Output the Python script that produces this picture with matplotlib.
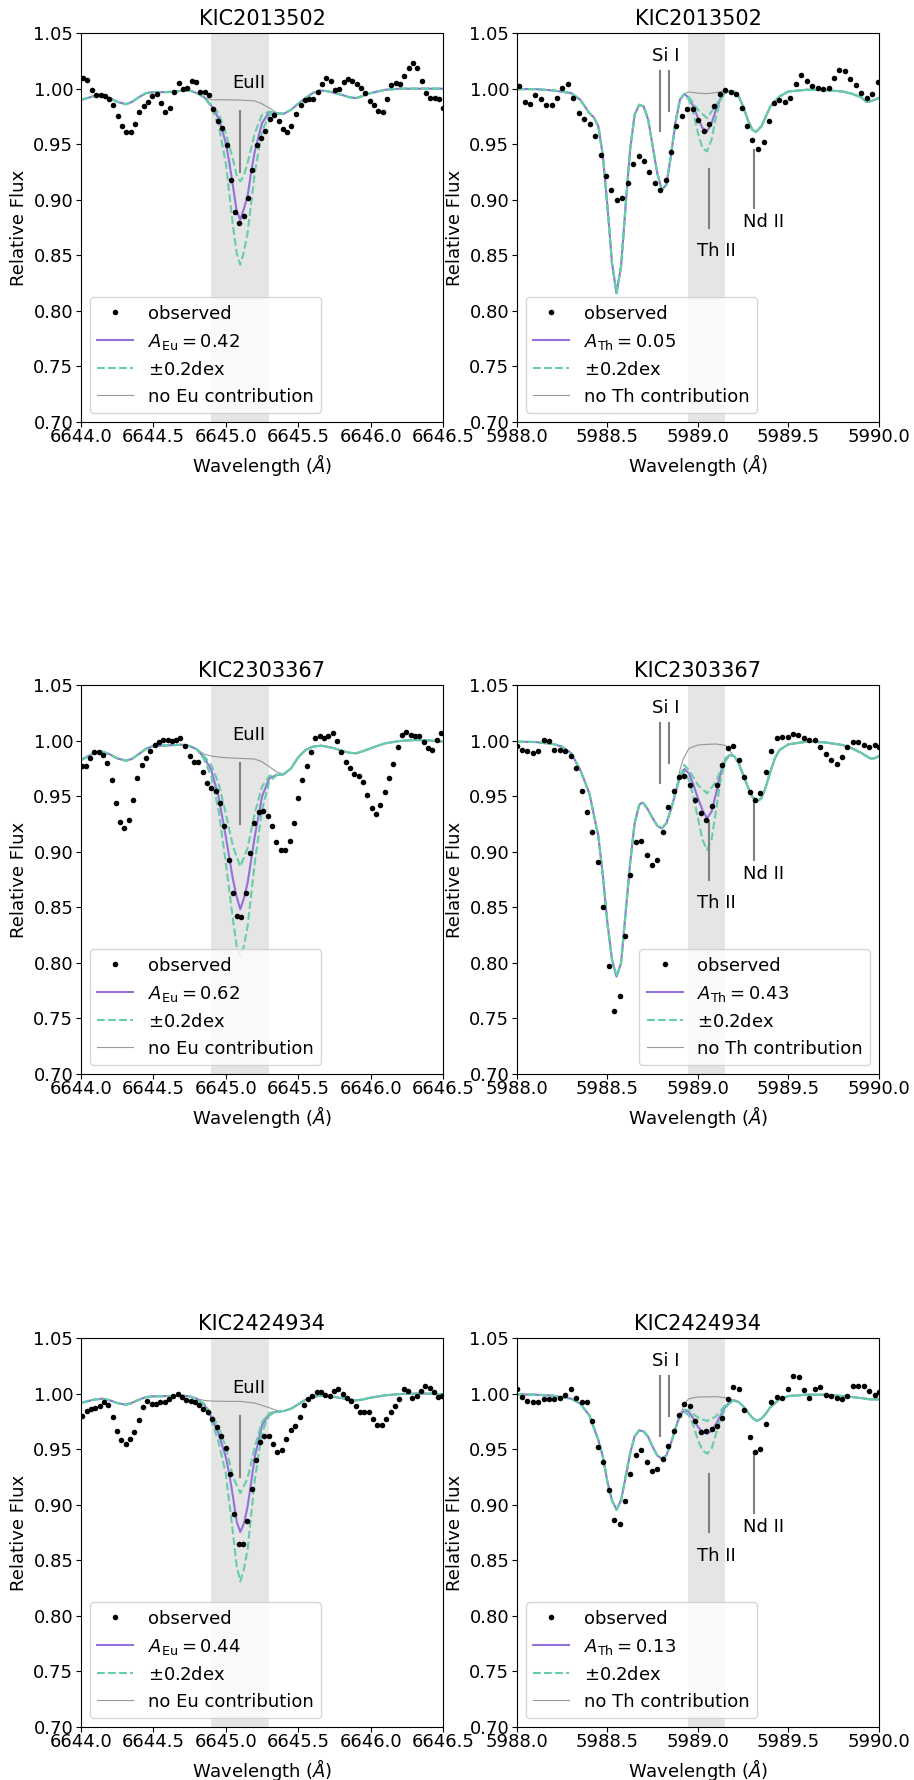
import numpy as np
import matplotlib
matplotlib.use('Agg')
import matplotlib.pyplot as plt
from matplotlib.ticker import FormatStrFormatter

stars = ['KIC2013502', 'KIC2303367', 'KIC2424934']
a_eu = [0.42, 0.62, 0.44]
a_th = [0.05, 0.43, 0.13]

# ---------------- KIC2013502, Eu 6645 ----------------
eu1_obs_wl = [6644.011, 6644.044, 6644.074, 6644.103, 6644.136, 6644.166, 6644.193, 6644.223, 6644.253, 6644.283,
              6644.313, 6644.343, 6644.373, 6644.402, 6644.432, 6644.462, 6644.492, 6644.522, 6644.552, 6644.582,
              6644.614, 6644.642, 6644.674, 6644.704, 6644.734, 6644.764, 6644.793, 6644.823, 6644.853, 6644.883,
              6644.915, 6644.945, 6644.973, 6645.005, 6645.035, 6645.065, 6645.092, 6645.127, 6645.155, 6645.184,
              6645.214, 6645.244, 6645.274, 6645.304, 6645.334, 6645.364, 6645.394, 6645.424, 6645.453, 6645.483,
              6645.516, 6645.545, 6645.575, 6645.605, 6645.635, 6645.663, 6645.695, 6645.725, 6645.755, 6645.785,
              6645.815, 6645.844, 6645.874, 6645.904, 6645.934, 6645.964, 6645.994, 6646.024, 6646.054, 6646.084,
              6646.114, 6646.144, 6646.173, 6646.203, 6646.233, 6646.263, 6646.293, 6646.323, 6646.353, 6646.383,
              6646.413, 6646.443, 6646.473, 6646.500]
eu1_obs_fl = [1.010, 1.008, 0.999, 0.994, 0.994, 0.993, 0.991, 0.985, 0.975, 0.966,
              0.961, 0.961, 0.968, 0.979, 0.984, 0.988, 0.993, 0.995, 0.987, 0.979,
              0.983, 0.997, 1.005, 1.000, 1.001, 1.007, 1.006, 0.997, 0.997, 0.994,
              0.982, 0.971, 0.965, 0.949, 0.918, 0.889, 0.879, 0.885, 0.902, 0.927,
              0.949, 0.956, 0.962, 0.973, 0.976, 0.971, 0.964, 0.961, 0.966, 0.977,
              0.985, 0.990, 0.991, 0.991, 0.997, 1.004, 1.010, 1.007, 0.999, 1.000,
              1.006, 1.009, 1.007, 1.004, 1.001, 0.996, 0.989, 0.985, 0.980, 0.979,
              0.991, 1.003, 1.005, 1.004, 1.011, 1.019, 1.023, 1.019, 1.007, 0.996,
              0.992, 0.992, 0.991, 0.983]
eu1_syn_wl = [6644.00, 6644.05, 6644.12, 6644.20, 6644.25, 6644.31, 6644.35, 6644.40, 6644.45, 6644.50,
              6644.60, 6644.70, 6644.75, 6644.80, 6644.85, 6644.90, 6644.95, 6644.975, 6645.00, 6645.025,
              6645.05, 6645.075, 6645.10, 6645.125, 6645.15, 6645.175, 6645.20, 6645.25, 6645.30, 6645.35,
              6645.40, 6645.45, 6645.50, 6645.55, 6645.60, 6645.65, 6645.70, 6645.80, 6645.85, 6645.90,
              6645.95, 6646.00, 6646.10, 6646.20, 6646.50]
eu1_syn_fl = [0.9900, 0.9918, 0.9945, 0.9915, 0.9882, 0.9860, 0.9879, 0.9924, 0.9960, 0.9969,
              0.9969, 0.9981, 0.9984, 0.9960, 0.9924, 0.9846, 0.9735, 0.9630, 0.9510, 0.9330,
              0.9120, 0.8900, 0.8820, 0.8920, 0.9030, 0.9250, 0.9435, 0.9690, 0.9790, 0.9777,
              0.9774, 0.9810, 0.9864, 0.9915, 0.9960, 0.9984, 0.9978, 0.9945, 0.9924, 0.9915,
              0.9936, 0.9960, 0.9990, 1.0000, 1.0000]
eu1_lo_wl = [6644.90, 6644.95, 6645.00, 6645.05, 6645.075, 6645.10, 6645.125, 6645.15, 6645.20, 6645.25, 6645.30]
eu1_lo_fl = [0.9855, 0.9780, 0.9600, 0.9360, 0.9220, 0.9165, 0.9220, 0.9330, 0.9600, 0.9765, 0.9795]
eu1_hi_wl = [6644.90, 6644.95, 6645.00, 6645.025, 6645.05, 6645.075, 6645.10, 6645.125, 6645.15, 6645.175,
             6645.20, 6645.25, 6645.30, 6645.35]
eu1_hi_fl = [0.9834, 0.9675, 0.9330, 0.9050, 0.8760, 0.8520, 0.8415, 0.8530, 0.8700, 0.8970,
             0.9240, 0.9615, 0.9765, 0.9777]
eu1_no_wl = [6644.85, 6644.90, 6645.00, 6645.10, 6645.20, 6645.25, 6645.30, 6645.35]
eu1_no_fl = [0.9924, 0.9900, 0.9900, 0.9897, 0.9890, 0.9864, 0.9825, 0.9786]

# ---------------- KIC2013502, Th 5989 ----------------
th1_obs_wl = [5988.009, 5988.042, 5988.070, 5988.101, 5988.131, 5988.162, 5988.191, 5988.221, 5988.250, 5988.280,
              5988.311, 5988.340, 5988.370, 5988.401, 5988.431, 5988.462, 5988.491, 5988.521, 5988.552, 5988.581,
              5988.611, 5988.640, 5988.672, 5988.701, 5988.730, 5988.762, 5988.791, 5988.821, 5988.850, 5988.881,
              5988.911, 5988.940, 5988.970, 5989.001, 5989.032, 5989.062, 5989.091, 5989.122, 5989.152, 5989.181,
              5989.211, 5989.242, 5989.271, 5989.301, 5989.330, 5989.362, 5989.391, 5989.420, 5989.450, 5989.481,
              5989.511, 5989.542, 5989.571, 5989.601, 5989.632, 5989.661, 5989.691, 5989.722, 5989.752, 5989.781,
              5989.812, 5989.842, 5989.871, 5989.902, 5989.932, 5989.961, 5989.993]
th1_obs_fl = [1.002, 0.988, 0.986, 0.994, 0.991, 0.985, 0.985, 0.992, 1.001, 1.004,
              0.992, 0.978, 0.973, 0.968, 0.957, 0.940, 0.921, 0.909, 0.900, 0.902,
              0.915, 0.932, 0.939, 0.935, 0.925, 0.915, 0.909, 0.918, 0.943, 0.966,
              0.975, 0.982, 0.982, 0.972, 0.962, 0.968, 0.984, 0.995, 0.999, 0.997,
              0.995, 0.983, 0.966, 0.954, 0.946, 0.952, 0.971, 0.987, 0.990, 0.988,
              0.992, 1.004, 1.012, 1.007, 1.002, 1.001, 1.000, 1.001, 1.010, 1.017,
              1.016, 1.009, 1.003, 0.996, 0.992, 0.995, 1.006]
th1_syn_wl = [5988.00, 5988.10, 5988.20, 5988.30, 5988.35, 5988.40, 5988.425, 5988.45, 5988.475, 5988.50,
              5988.525, 5988.55, 5988.575, 5988.60, 5988.625, 5988.65, 5988.675, 5988.70, 5988.725, 5988.75,
              5988.775, 5988.80, 5988.825, 5988.85, 5988.875, 5988.90, 5988.925, 5988.95, 5988.975, 5989.00,
              5989.025, 5989.05, 5989.075, 5989.10, 5989.125, 5989.15, 5989.175, 5989.20, 5989.225, 5989.25,
              5989.275, 5989.30, 5989.32, 5989.35, 5989.375, 5989.40, 5989.45, 5989.50, 5989.60, 5989.70,
              5989.80, 5989.85, 5989.90, 5989.93, 5989.95, 5990.00]
th1_syn_fl = [0.9996, 0.9996, 0.9984, 0.9960, 0.9900, 0.9780, 0.9740, 0.9660, 0.9390, 0.8940,
              0.8430, 0.8160, 0.8400, 0.8940, 0.9450, 0.9765, 0.9855, 0.9840, 0.9720, 0.9480,
              0.9240, 0.9090, 0.9135, 0.9390, 0.9690, 0.9900, 0.9954, 0.9915, 0.9840, 0.9735,
              0.9645, 0.9615, 0.9690, 0.9810, 0.9915, 0.9966, 0.9980, 0.9972, 0.9930, 0.9840,
              0.9720, 0.9630, 0.9610, 0.9660, 0.9750, 0.9840, 0.9930, 0.9975, 0.9990, 0.9987,
              0.9975, 0.9954, 0.9924, 0.9882, 0.9885, 0.9915]
th1_lo_wl = [5988.95, 5989.00, 5989.05, 5989.10, 5989.15]
th1_lo_fl = [0.9924, 0.9810, 0.9735, 0.9855, 0.9970]
th1_hi_wl = [5988.95, 5988.975, 5989.00, 5989.025, 5989.05, 5989.075, 5989.10, 5989.125, 5989.15]
th1_hi_fl = [0.9900, 0.9780, 0.9600, 0.9465, 0.9435, 0.9540, 0.9750, 0.9900, 0.9960]
th1_no_wl = [5988.95, 5989.00, 5989.05, 5989.10, 5989.15]
th1_no_fl = [0.9970, 0.9960, 0.9955, 0.9966, 0.9978]

# ---------------- KIC2303367, Eu 6645 ----------------
eu2_obs_wl = [6644.005, 6644.034, 6644.062, 6644.092, 6644.122, 6644.150, 6644.182, 6644.212, 6644.239, 6644.269,
              6644.299, 6644.329, 6644.359, 6644.389, 6644.419, 6644.448, 6644.478, 6644.508, 6644.538, 6644.568,
              6644.598, 6644.628, 6644.658, 6644.687, 6644.720, 6644.750, 6644.780, 6644.810, 6644.840, 6644.869,
              6644.899, 6644.929, 6644.959, 6644.989, 6645.019, 6645.049, 6645.079, 6645.108, 6645.138, 6645.168,
              6645.198, 6645.228, 6645.258, 6645.288, 6645.320, 6645.350, 6645.380, 6645.410, 6645.440, 6645.469,
              6645.499, 6645.529, 6645.559, 6645.589, 6645.619, 6645.649, 6645.679, 6645.709, 6645.739, 6645.769,
              6645.798, 6645.828, 6645.858, 6645.888, 6645.918, 6645.948, 6645.978, 6646.008, 6646.038, 6646.068,
              6646.098, 6646.128, 6646.157, 6646.187, 6646.217, 6646.247, 6646.277, 6646.307, 6646.337, 6646.367,
              6646.397, 6646.427, 6646.456, 6646.486]
eu2_obs_fl = [0.977, 0.977, 0.984, 0.990, 0.990, 0.987, 0.980, 0.965, 0.944, 0.927,
              0.921, 0.929, 0.947, 0.966, 0.978, 0.984, 0.991, 0.996, 0.999, 1.001,
              1.001, 1.000, 1.001, 1.002, 0.995, 0.986, 0.981, 0.981, 0.972, 0.962,
              0.957, 0.955, 0.944, 0.923, 0.893, 0.863, 0.842, 0.841, 0.863, 0.899,
              0.926, 0.936, 0.937, 0.932, 0.923, 0.909, 0.902, 0.902, 0.910, 0.926,
              0.948, 0.965, 0.977, 0.990, 1.002, 1.004, 1.002, 1.004, 1.007, 1.000,
              0.990, 0.981, 0.975, 0.970, 0.968, 0.963, 0.951, 0.939, 0.934, 0.942,
              0.954, 0.966, 0.979, 0.994, 1.005, 1.008, 1.005, 1.004, 1.004, 0.999,
              0.993, 0.992, 1.001, 1.007]
eu2_syn_wl = [6644.00, 6644.05, 6644.10, 6644.15, 6644.20, 6644.25, 6644.31, 6644.35, 6644.40, 6644.45,
              6644.50, 6644.60, 6644.70, 6644.75, 6644.80, 6644.85, 6644.90, 6644.95, 6645.00, 6645.05,
              6645.075, 6645.10, 6645.125, 6645.15, 6645.20, 6645.25, 6645.30, 6645.35, 6645.40, 6645.45,
              6645.50, 6645.55, 6645.60, 6645.66, 6645.70, 6645.75, 6645.80, 6645.85, 6645.90, 6645.95,
              6646.00, 6646.05, 6646.10, 6646.20, 6646.30, 6646.40, 6646.50]
eu2_syn_fl = [0.9826, 0.9862, 0.9892, 0.9900, 0.9877, 0.9841, 0.9820, 0.9835, 0.9880, 0.9928,
              0.9952, 0.9958, 0.9964, 0.9952, 0.9922, 0.9850, 0.9736, 0.9496, 0.9137, 0.8747,
              0.8597, 0.8483, 0.8582, 0.8717, 0.9137, 0.9496, 0.9661, 0.9691, 0.9697, 0.9751,
              0.9850, 0.9916, 0.9946, 0.9955, 0.9946, 0.9931, 0.9910, 0.9892, 0.9886, 0.9907,
              0.9931, 0.9955, 0.9976, 0.9997, 1.0006, 1.0003, 0.9991]
eu2_lo_wl = [6644.85, 6644.90, 6644.95, 6645.00, 6645.05, 6645.10, 6645.15, 6645.20, 6645.25, 6645.30, 6645.35]
eu2_lo_fl = [0.9862, 0.9781, 0.9616, 0.9346, 0.9047, 0.8867, 0.9032, 0.9346, 0.9586, 0.9682, 0.9694]
eu2_hi_wl = [6644.85, 6644.90, 6644.95, 6645.00, 6645.05, 6645.075, 6645.10, 6645.125, 6645.15, 6645.20,
             6645.25, 6645.30, 6645.35]
eu2_hi_fl = [0.9832, 0.9676, 0.9376, 0.8897, 0.8387, 0.8150, 0.8058, 0.8150, 0.8327, 0.8897,
             0.9376, 0.9631, 0.9688]
eu2_no_wl = [6644.80, 6644.85, 6644.90, 6644.95, 6645.00, 6645.10, 6645.20, 6645.25, 6645.30, 6645.35, 6645.40]
eu2_no_fl = [0.9922, 0.9880, 0.9862, 0.9853, 0.9847, 0.9840, 0.9835, 0.9810, 0.9766, 0.9720, 0.9697]

# ---------------- KIC2303367, Th 5989 ----------------
th2_obs_wl = [5988.000, 5988.026, 5988.057, 5988.086, 5988.116, 5988.147, 5988.177, 5988.206, 5988.237, 5988.267,
              5988.296, 5988.326, 5988.357, 5988.386, 5988.416, 5988.447, 5988.477, 5988.506, 5988.535, 5988.567,
              5988.596, 5988.626, 5988.657, 5988.686, 5988.716, 5988.745, 5988.776, 5988.806, 5988.835, 5988.865,
              5988.896, 5988.925, 5988.955, 5988.984, 5989.016, 5989.045, 5989.075, 5989.104, 5989.135, 5989.167,
              5989.196, 5989.226, 5989.255, 5989.285, 5989.316, 5989.345, 5989.375, 5989.406, 5989.435, 5989.464,
              5989.496, 5989.525, 5989.555, 5989.586, 5989.615, 5989.645, 5989.676, 5989.705, 5989.735, 5989.766,
              5989.795, 5989.825, 5989.856, 5989.886, 5989.915, 5989.947, 5989.976, 5990.000]
th2_obs_fl = [0.995, 0.992, 0.991, 0.989, 0.991, 1.001, 1.000, 0.992, 0.992, 0.991,
              0.986, 0.975, 0.955, 0.936, 0.918, 0.891, 0.850, 0.797, 0.757, 0.770,
              0.824, 0.879, 0.909, 0.910, 0.897, 0.888, 0.893, 0.918, 0.940, 0.955,
              0.967, 0.968, 0.960, 0.947, 0.935, 0.929, 0.941, 0.960, 0.978, 0.993,
              0.995, 0.983, 0.967, 0.954, 0.947, 0.953, 0.972, 0.991, 1.002, 1.003,
              1.003, 1.006, 1.005, 1.002, 1.001, 1.001, 0.994, 0.988, 0.983, 0.979,
              0.985, 0.994, 0.999, 0.999, 0.996, 0.994, 0.996, 0.994]
th2_syn_wl = [5988.00, 5988.10, 5988.20, 5988.25, 5988.30, 5988.35, 5988.40, 5988.45, 5988.475, 5988.50,
              5988.525, 5988.55, 5988.575, 5988.60, 5988.625, 5988.65, 5988.675, 5988.69, 5988.70, 5988.725,
              5988.75, 5988.775, 5988.80, 5988.825, 5988.85, 5988.875, 5988.90, 5988.925, 5988.95, 5988.975,
              5989.00, 5989.025, 5989.05, 5989.075, 5989.10, 5989.125, 5989.15, 5989.175, 5989.20, 5989.225,
              5989.25, 5989.275, 5989.30, 5989.325, 5989.35, 5989.375, 5989.40, 5989.425, 5989.45, 5989.50,
              5989.60, 5989.70, 5989.80, 5989.85, 5989.90, 5989.95, 5989.975, 5990.00]
th2_syn_fl = [0.9991, 0.9988, 0.9970, 0.9946, 0.9886, 0.9736, 0.9526, 0.9137, 0.8777, 0.8357,
              0.8028, 0.7878, 0.7998, 0.8447, 0.8897, 0.9256, 0.9421, 0.9442, 0.9436, 0.9376,
              0.9301, 0.9235, 0.9211, 0.9256, 0.9376, 0.9526, 0.9676, 0.9745, 0.9706, 0.9601,
              0.9481, 0.9376, 0.9301, 0.9361, 0.9526, 0.9706, 0.9826, 0.9871, 0.9862, 0.9796,
              0.9691, 0.9586, 0.9496, 0.9451, 0.9481, 0.9586, 0.9721, 0.9841, 0.9916, 0.9967,
              0.9991, 0.9985, 0.9961, 0.9931, 0.9892, 0.9841, 0.9841, 0.9862]
th2_lo_wl = [5988.925, 5988.95, 5989.00, 5989.05, 5989.10, 5989.15, 5989.175]
th2_lo_fl = [0.9781, 0.9736, 0.9601, 0.9526, 0.9631, 0.9841, 0.9871]
th2_hi_wl = [5988.925, 5988.95, 5988.975, 5989.00, 5989.025, 5989.05, 5989.075, 5989.10, 5989.125, 5989.15, 5989.175]
th2_hi_fl = [0.9721, 0.9646, 0.9496, 0.9301, 0.9107, 0.9017, 0.9107, 0.9376, 0.9646, 0.9811, 0.9868]
th2_no_wl = [5988.90, 5988.92, 5988.95, 5989.00, 5989.05, 5989.10, 5989.15, 5989.175, 5989.19]
th2_no_fl = [0.9736, 0.9840, 0.9930, 0.9961, 0.9967, 0.9970, 0.9958, 0.9915, 0.9875]

# ---------------- KIC2424934, Eu 6645 ----------------
eu3_obs_wl = [6644.005, 6644.039, 6644.069, 6644.099, 6644.129, 6644.159, 6644.189, 6644.218, 6644.248, 6644.278,
              6644.308, 6644.338, 6644.368, 6644.398, 6644.428, 6644.458, 6644.488, 6644.517, 6644.547, 6644.577,
              6644.607, 6644.637, 6644.667, 6644.697, 6644.727, 6644.757, 6644.787, 6644.816, 6644.846, 6644.876,
              6644.906, 6644.936, 6644.968, 6644.998, 6645.028, 6645.060, 6645.088, 6645.120, 6645.148, 6645.178,
              6645.207, 6645.237, 6645.267, 6645.297, 6645.327, 6645.357, 6645.387, 6645.417, 6645.447, 6645.477,
              6645.509, 6645.539, 6645.569, 6645.598, 6645.628, 6645.658, 6645.688, 6645.718, 6645.748, 6645.778,
              6645.808, 6645.838, 6645.868, 6645.898, 6645.927, 6645.957, 6645.987, 6646.017, 6646.047, 6646.077,
              6646.109, 6646.139, 6646.169, 6646.199, 6646.229, 6646.259, 6646.289, 6646.319, 6646.348, 6646.378,
              6646.408, 6646.438, 6646.468, 6646.496]
eu3_obs_fl = [0.980, 0.984, 0.986, 0.987, 0.989, 0.992, 0.990, 0.979, 0.966, 0.958,
              0.955, 0.959, 0.965, 0.976, 0.988, 0.993, 0.991, 0.991, 0.992, 0.992,
              0.995, 0.998, 1.000, 0.997, 0.994, 0.993, 0.992, 0.990, 0.986, 0.983,
              0.977, 0.970, 0.962, 0.951, 0.928, 0.892, 0.865, 0.865, 0.885, 0.914,
              0.940, 0.956, 0.962, 0.962, 0.955, 0.947, 0.949, 0.959, 0.967, 0.971,
              0.979, 0.990, 0.995, 0.998, 1.001, 1.001, 0.999, 0.998, 1.002, 1.004,
              1.000, 0.996, 0.993, 0.989, 0.983, 0.983, 0.983, 0.977, 0.972, 0.972,
              0.977, 0.983, 0.989, 0.995, 1.004, 1.002, 0.996, 0.998, 1.002, 1.007,
              1.005, 1.001, 0.997, 0.998]
eu3_syn_wl = [6644.00, 6644.05, 6644.10, 6644.15, 6644.20, 6644.25, 6644.31, 6644.35, 6644.40, 6644.45,
              6644.50, 6644.60, 6644.70, 6644.75, 6644.80, 6644.85, 6644.90, 6644.95, 6645.00, 6645.025,
              6645.05, 6645.075, 6645.10, 6645.125, 6645.15, 6645.175, 6645.20, 6645.25, 6645.30, 6645.35,
              6645.40, 6645.45, 6645.50, 6645.55, 6645.60, 6645.65, 6645.70, 6645.80, 6645.85, 6645.90,
              6645.95, 6646.00, 6646.10, 6646.20, 6646.35, 6646.50]
eu3_syn_fl = [0.9915, 0.9933, 0.9948, 0.9954, 0.9939, 0.9915, 0.9900, 0.9915, 0.9945, 0.9969,
              0.9975, 0.9978, 0.9981, 0.9975, 0.9954, 0.9903, 0.9789, 0.9639, 0.9429, 0.9270,
              0.9069, 0.8850, 0.8754, 0.8830, 0.8979, 0.9200, 0.9429, 0.9714, 0.9819, 0.9837,
              0.9843, 0.9864, 0.9903, 0.9945, 0.9969, 0.9981, 0.9978, 0.9960, 0.9948, 0.9939,
              0.9948, 0.9963, 0.9984, 0.9996, 1.0002, 0.9993]
eu3_lo_wl = [6644.85, 6644.90, 6644.95, 6645.00, 6645.05, 6645.10, 6645.15, 6645.20, 6645.25, 6645.30, 6645.35]
eu3_lo_fl = [0.9909, 0.9819, 0.9699, 0.9519, 0.9249, 0.9105, 0.9234, 0.9519, 0.9744, 0.9825, 0.9837]
eu3_hi_wl = [6644.85, 6644.90, 6644.95, 6645.00, 6645.05, 6645.075, 6645.10, 6645.125, 6645.15, 6645.20,
             6645.25, 6645.30, 6645.35]
eu3_hi_fl = [0.9894, 0.9759, 0.9564, 0.9279, 0.8740, 0.8450, 0.8310, 0.8420, 0.8590, 0.9220,
             0.9654, 0.9804, 0.9834]
eu3_no_wl = [6644.80, 6644.85, 6644.90, 6645.00, 6645.10, 6645.20, 6645.25, 6645.30, 6645.35, 6645.38]
eu3_no_fl = [0.9954, 0.9939, 0.9933, 0.9930, 0.9930, 0.9915, 0.9894, 0.9873, 0.9849, 0.9840]

# ---------------- KIC2424934, Th 5989 ----------------
th3_obs_wl = [5988.000, 5988.026, 5988.057, 5988.086, 5988.116, 5988.147, 5988.177, 5988.206, 5988.237, 5988.267,
              5988.296, 5988.326, 5988.357, 5988.386, 5988.416, 5988.447, 5988.477, 5988.506, 5988.535, 5988.567,
              5988.596, 5988.626, 5988.657, 5988.686, 5988.716, 5988.745, 5988.776, 5988.806, 5988.835, 5988.865,
              5988.896, 5988.925, 5988.955, 5988.984, 5989.016, 5989.045, 5989.075, 5989.104, 5989.135, 5989.167,
              5989.196, 5989.226, 5989.255, 5989.286, 5989.316, 5989.345, 5989.374, 5989.406, 5989.435, 5989.464,
              5989.496, 5989.525, 5989.557, 5989.586, 5989.615, 5989.645, 5989.674, 5989.706, 5989.735, 5989.766,
              5989.795, 5989.825, 5989.856, 5989.886, 5989.915, 5989.947, 5989.976, 5990.000]
th3_obs_fl = [1.004, 0.997, 0.993, 0.992, 0.992, 0.995, 0.995, 0.995, 0.996, 0.999,
              1.004, 0.996, 0.992, 0.992, 0.975, 0.952, 0.938, 0.913, 0.886, 0.883,
              0.903, 0.928, 0.945, 0.949, 0.938, 0.930, 0.932, 0.941, 0.953, 0.966,
              0.981, 0.991, 0.989, 0.975, 0.965, 0.966, 0.968, 0.971, 0.978, 0.995,
              1.006, 1.004, 0.985, 0.961, 0.947, 0.950, 0.973, 0.992, 0.997, 0.996,
              1.004, 1.016, 1.015, 1.003, 0.996, 1.004, 1.006, 0.999, 0.998, 0.996,
              0.995, 0.998, 1.007, 1.007, 1.007, 1.002, 0.999, 1.001]
th3_syn_wl = [5988.00, 5988.10, 5988.20, 5988.30, 5988.35, 5988.40, 5988.45, 5988.475, 5988.50, 5988.525,
              5988.55, 5988.575, 5988.60, 5988.625, 5988.65, 5988.675, 5988.70, 5988.725, 5988.75, 5988.775,
              5988.80, 5988.825, 5988.85, 5988.875, 5988.90, 5988.925, 5988.95, 5988.975, 5989.00, 5989.025,
              5989.05, 5989.075, 5989.10, 5989.125, 5989.15, 5989.175, 5989.20, 5989.225, 5989.25, 5989.275,
              5989.30, 5989.325, 5989.35, 5989.375, 5989.40, 5989.45, 5989.50, 5989.60, 5989.70, 5989.80,
              5989.85, 5989.90, 5989.95, 5990.00]
th3_syn_fl = [0.9993, 0.9990, 0.9981, 0.9954, 0.9909, 0.9804, 0.9579, 0.9429, 0.9204, 0.9039,
              0.8955, 0.9039, 0.9249, 0.9459, 0.9615, 0.9669, 0.9660, 0.9609, 0.9519, 0.9444,
              0.9414, 0.9444, 0.9549, 0.9684, 0.9804, 0.9849, 0.9834, 0.9774, 0.9699, 0.9654,
              0.9639, 0.9663, 0.9729, 0.9804, 0.9879, 0.9924, 0.9939, 0.9924, 0.9885, 0.9834,
              0.9783, 0.9753, 0.9774, 0.9819, 0.9879, 0.9948, 0.9978, 0.9990, 0.9990, 0.9978,
              0.9969, 0.9960, 0.9948, 0.9948]
th3_lo_wl = [5988.925, 5988.95, 5989.00, 5989.05, 5989.10, 5989.15, 5989.20]
th3_lo_fl = [0.9855, 0.9849, 0.9783, 0.9753, 0.9795, 0.9894, 0.9939]
th3_hi_wl = [5988.925, 5988.95, 5988.975, 5989.00, 5989.025, 5989.05, 5989.075, 5989.10, 5989.125, 5989.15,
             5989.175, 5989.20]
th3_hi_fl = [0.9834, 0.9804, 0.9714, 0.9579, 0.9489, 0.9459, 0.9504, 0.9639, 0.9774, 0.9864,
             0.9915, 0.9933]
th3_no_wl = [5988.90, 5988.925, 5988.95, 5989.00, 5989.10, 5989.15, 5989.20, 5989.225]
th3_no_fl = [0.9804, 0.9909, 0.9954, 0.9969, 0.9972, 0.9963, 0.9939, 0.9924]

eu_sets = [
    (eu1_obs_wl, eu1_obs_fl, eu1_syn_wl, eu1_syn_fl, eu1_lo_wl, eu1_lo_fl, eu1_hi_wl, eu1_hi_fl, eu1_no_wl, eu1_no_fl),
    (eu2_obs_wl, eu2_obs_fl, eu2_syn_wl, eu2_syn_fl, eu2_lo_wl, eu2_lo_fl, eu2_hi_wl, eu2_hi_fl, eu2_no_wl, eu2_no_fl),
    (eu3_obs_wl, eu3_obs_fl, eu3_syn_wl, eu3_syn_fl, eu3_lo_wl, eu3_lo_fl, eu3_hi_wl, eu3_hi_fl, eu3_no_wl, eu3_no_fl),
]
th_sets = [
    (th1_obs_wl, th1_obs_fl, th1_syn_wl, th1_syn_fl, th1_lo_wl, th1_lo_fl, th1_hi_wl, th1_hi_fl, th1_no_wl, th1_no_fl),
    (th2_obs_wl, th2_obs_fl, th2_syn_wl, th2_syn_fl, th2_lo_wl, th2_lo_fl, th2_hi_wl, th2_hi_fl, th2_no_wl, th2_no_fl),
    (th3_obs_wl, th3_obs_fl, th3_syn_wl, th3_syn_fl, th3_lo_wl, th3_lo_fl, th3_hi_wl, th3_hi_fl, th3_no_wl, th3_no_fl),
]
for s in eu_sets + th_sets:
    for i in range(0, 10, 2):
        assert len(s[i]) == len(s[i + 1])

PURPLE = 'mediumpurple'
MINT = 'mediumaquamarine'
FS = 13


def stitch(wl, fl, wl_w, fl_w):
    # replace the synthetic spectrum inside a window by another run
    wl = np.asarray(wl)
    fl = np.asarray(fl)
    keep = (wl < wl_w[0]) | (wl > wl_w[-1])
    x = np.concatenate([wl[keep], wl_w])
    y = np.concatenate([fl[keep], fl_w])
    o = np.argsort(x)
    return x[o], y[o]


def draw_panel(ax, data, title, elem, abund, span, xlim, xticks, legend_loc):
    obs_wl, obs_fl, syn_wl, syn_fl, lo_wl, lo_fl, hi_wl, hi_fl, no_wl, no_fl = data
    ax.axvspan(span[0], span[1], color='gray', alpha=0.2, lw=0, zorder=0)
    h_no, = ax.plot(*stitch(syn_wl, syn_fl, no_wl, no_fl), color='gray', lw=0.8, alpha=0.8)
    h_best, = ax.plot(syn_wl, syn_fl, color=PURPLE, lw=1.5)
    h_err, = ax.plot(*stitch(syn_wl, syn_fl, hi_wl, hi_fl), '--', color=MINT, lw=1.5)
    ax.plot(*stitch(syn_wl, syn_fl, lo_wl, lo_fl), '--', color=MINT, lw=1.5)
    h_obs, = ax.plot(obs_wl, obs_fl, 'o', color='k', ms=4, mec='none', zorder=5)

    ax.set_xlim(*xlim)
    ax.set_ylim(0.70, 1.05)
    ax.set_xticks(xticks)
    ax.set_yticks(np.arange(0.70, 1.051, 0.05))
    ax.xaxis.set_major_formatter(FormatStrFormatter('%.1f'))
    ax.yaxis.set_major_formatter(FormatStrFormatter('%.2f'))
    ax.tick_params(labelsize=FS)
    ax.tick_params(axis='x', pad=1)
    ax.tick_params(axis='y', pad=2)
    ax.set_title(title, fontsize=15)
    ax.set_xlabel(r'Wavelength ($\AA$)', fontsize=FS)
    ax.set_ylabel('Relative Flux', fontsize=FS)
    ax.legend([h_obs, h_best, h_err, h_no],
              ['observed', r'$A_{\rm %s}=%.2f$' % (elem, abund), r'$\pm0.2$dex',
               'no %s contribution' % elem],
              loc=legend_loc, fontsize=FS)


fig = plt.figure(figsize=(9.14, 17.8), dpi=100)
lefts = [0.0886, 0.5656]
bottoms = [0.7629, 0.3966, 0.0298]
w, h = 0.3961, 0.2185

eu_ticks = [6644.0, 6644.5, 6645.0, 6645.5, 6646.0, 6646.5]
th_ticks = [5988.0, 5988.5, 5989.0, 5989.5, 5990.0]
lbl = dict(color='gray', lw=1.5)

for row in range(3):
    ax = fig.add_axes([lefts[0], bottoms[row], w, h])
    draw_panel(ax, eu_sets[row], stars[row], 'Eu', a_eu[row], (6644.9, 6645.3),
               (6644.0, 6646.5), eu_ticks, 'lower left')
    ax.plot([6645.1, 6645.1], [0.925, 0.98], **lbl)
    ax.text(6645.16, 1.0005, 'EuII', ha='center', va='baseline', fontsize=FS)

    ax = fig.add_axes([lefts[1], bottoms[row], w, h])
    draw_panel(ax, th_sets[row], stars[row], 'Th', a_th[row], (5988.945, 5989.15),
               (5988.0, 5990.0), th_ticks, 'lower right' if row == 1 else 'lower left')
    ax.plot([5988.79, 5988.79], [0.962, 1.016], **lbl)
    ax.plot([5988.84, 5988.84], [0.980, 1.016], **lbl)
    ax.plot([5989.06, 5989.06], [0.875, 0.928], **lbl)
    ax.plot([5989.31, 5989.31], [0.8925, 0.945], **lbl)
    ax.text(5988.82, 1.025, 'Si I', ha='center', va='baseline', fontsize=FS)
    ax.text(5989.10, 0.8496, 'Th II', ha='center', va='baseline', fontsize=FS)
    ax.text(5989.36, 0.8751, 'Nd II', ha='center', va='baseline', fontsize=FS)

fig.savefig('out.png', dpi=100)
